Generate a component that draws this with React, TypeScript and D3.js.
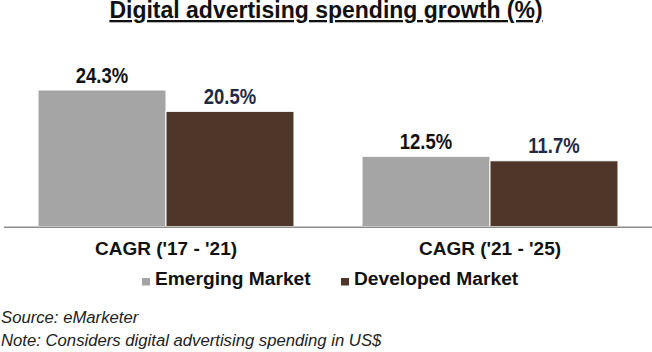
import * as d3 from 'd3';

const categories = ["CAGR ('17 - '21)", "CAGR ('21 - '25)"];
const seriesNames = ['Emerging Market', 'Developed Market'];
const emergingValues = [24.3, 12.5];
const developedValues = [20.5, 11.7];
const seriesColors = ['#a5a5a5', '#4e3629'];
const labelColors = ['#111111', '#1f2a44'];

const width = 652;
const height = 352;
const baseline = 226.5;

export default function App() {
  const rows = categories.map((c, i) => ({ category: c, values: [emergingValues[i], developedValues[i]] }));

  const x0 = d3.scaleBand().domain(categories).range([4, width]).paddingInner(0.21).paddingOuter(0.105);
  const x1 = d3.scaleBand().domain(seriesNames).range([0, x0.bandwidth()]);
  const y = d3.scaleLinear().domain([0, 28]).range([baseline, baseline - 28 * 5.617]);

  // legend: marker x for each entry
  const legendX = d3.scaleOrdinal<string, number>().domain(seriesNames).range([142, 341]);

  return (
    <svg
      width={width}
      height={height}
      style={{ position: 'fixed', left: 0, top: 0, background: '#fff' }}
      fontFamily='"Liberation Sans", Arial, sans-serif'
    >
      <text x={width / 2} y={18} textAnchor="middle" fontSize={23} fontWeight="bold" fill="#111" textDecoration="underline">
        Digital advertising spending growth (%)
      </text>

      {rows.map((row) => (
        <g key={row.category} transform={`translate(${x0(row.category)},0)`}>
          {row.values.map((v, j) => {
            const bx = x1(seriesNames[j]) ?? 0;
            return (
              <g key={seriesNames[j]}>
                <rect x={bx} y={y(v)} width={x1.bandwidth()} height={baseline - y(v)} fill={seriesColors[j]} stroke="#fff" strokeWidth={1} />
                {/* condensed bold value label */}
                <text
                  transform={`translate(${bx + x1.bandwidth() / 2},${y(v) - 7.5}) scale(0.84,1)`}
                  textAnchor="middle"
                  fontSize={22}
                  fontWeight="bold"
                  fill={labelColors[j]}
                >
                  {v.toFixed(1)}%
                </text>
              </g>
            );
          })}
          <text x={x0.bandwidth() / 2} y={255} textAnchor="middle" fontSize={19} fontWeight="bold" fill="#111">
            {row.category}
          </text>
        </g>
      ))}

      <line x1={4} x2={width} y1={baseline + 0.75} y2={baseline + 0.75} stroke="#8c8c8c" strokeWidth={1.5} />

      {seriesNames.map((name, j) => (
        <g key={name} transform={`translate(${legendX(name)},0)`}>
          <rect x={0} y={278} width={8} height={7.5} fill={seriesColors[j]} />
          <text x={13} y={284.5} fontSize={19.2} fontWeight="bold" fill="#111">
            {name}
          </text>
        </g>
      ))}

      <text x={1} y={323} fontSize={16.7} fontStyle="italic" fill="#222">
        Source: eMarketer
      </text>
      <text x={1} y={346} fontSize={16.7} fontStyle="italic" fill="#222">
        Note: Considers digital advertising spending in US$
      </text>
    </svg>
  );
}
